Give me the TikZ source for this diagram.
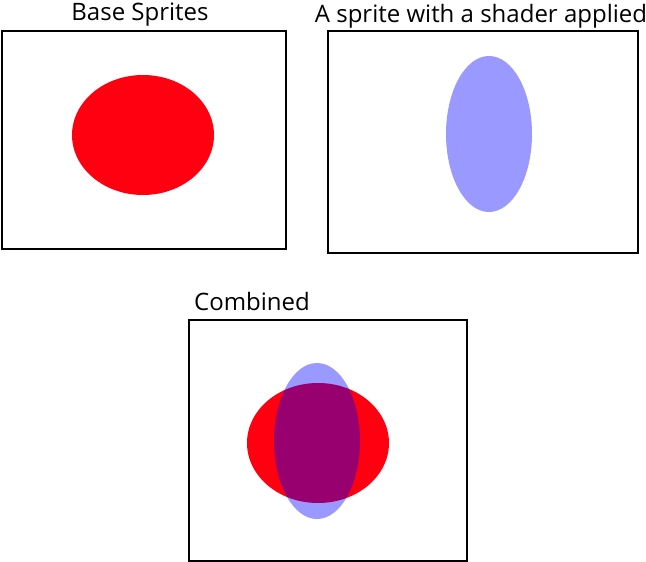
\documentclass[tikz,border=0pt]{standalone}
\usepackage{fontspec}
\setmainfont{Open Sans}
\usetikzlibrary{shapes.geometric}

\begin{document}
\begin{tikzpicture}[x=1pt, y=-1pt]

\tikzset{
    spritebox/.style={draw, line width=1.5pt, inner sep=0pt},
    redsprite/.style={ellipse, fill={rgb,255:red,255;green,0;blue,16}, inner sep=0pt, minimum width=142pt, minimum height=120pt},
    bluesprite/.style={ellipse, fill=blue, fill opacity=0.4, inner sep=0pt, minimum width=86pt, minimum height=156pt},
    caption/.style={font=\fontsize{24}{28}\selectfont, inner sep=0pt}
}
\useasboundingbox (0,0) rectangle (646,562);

\node[spritebox, minimum width=284pt, minimum height=218pt] (base) at (144,140) {};
\node[spritebox, minimum width=310pt, minimum height=222pt] (shader) at (483,142) {};
\node[spritebox, minimum width=278pt, minimum height=241pt] (combined) at (328,440.5) {};

\node[caption, anchor=base] (baselabel) at (140,20) {Base Sprites};
\node[caption, anchor=base] (shaderlabel) at (481,23) {A sprite with a shader applied};
\node[caption, anchor=base west] (combinedlabel) at (194,310) {Combined};

\node[redsprite] (basered) at (143,135) {};
\node[bluesprite] (shaderblue) at (489,134) {};
\node[redsprite] (combinedred) at (318,443) {};
\node[bluesprite] (combinedblue) at (317,441) {};

\end{tikzpicture}
\end{document}
